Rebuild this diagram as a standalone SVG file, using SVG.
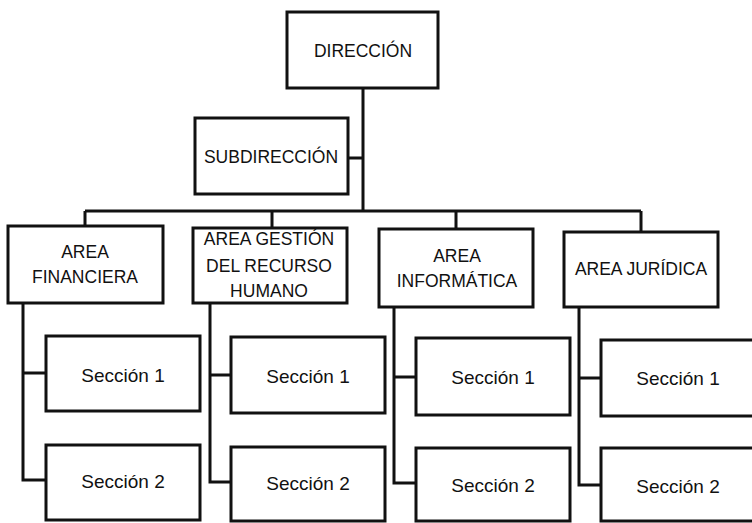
<svg xmlns="http://www.w3.org/2000/svg" width="752" height="523" viewBox="0 0 752 523">
<style>
.b{fill:#fff;stroke:#111;stroke-width:3}
.c{fill:none;stroke:#111;stroke-width:3}
text{font-family:"Liberation Sans",Arial,sans-serif;fill:#111;text-anchor:middle}
.t{font-size:17.5px}
.s{font-size:19px}
</style>
<rect width="752" height="523" fill="#fff"/>
<g id="connectors">
<path class="c" d="M363 88V211M348 158H363M85 211H641M85 211V226M272 211V228M456 211V229M641 211V232"/>
<path class="c" d="M23 303V480H46M23 373H46"/>
<path class="c" d="M210 303V482H231M210 375H231"/>
<path class="c" d="M394 307V483H416M394 377H416"/>
<path class="c" d="M579 307V485H601M579 378H601"/>
</g>
<g id="direccion"><rect class="b" x="287" y="12" width="151" height="76"/><text class="t" x="363" y="57">DIRECCIÓN</text></g>
<g id="subdireccion"><rect class="b" x="195" y="118" width="153" height="76"/><text class="t" x="271" y="163">SUBDIRECCIÓN</text></g>
<g id="area-financiera"><rect class="b" x="8" y="226" width="155" height="77"/><text class="t" x="85" y="258">AREA</text><text class="t" x="85" y="283">FINANCIERA</text></g>
<g id="area-rrhh"><rect class="b" x="193" y="228" width="154" height="75"/><text class="t" x="269" y="245">AREA GESTIÓN</text><text class="t" x="269" y="272">DEL RECURSO</text><text class="t" x="269" y="297">HUMANO</text></g>
<g id="area-informatica"><rect class="b" x="379" y="229" width="154" height="78"/><text class="t" x="457" y="262">AREA</text><text class="t" x="457" y="287">INFORMÁTICA</text></g>
<g id="area-juridica"><rect class="b" x="564" y="232" width="154" height="75"/><text class="t" x="641" y="275">AREA JURÍDICA</text></g>
<g id="fin-s1"><rect class="b" x="46" y="336" width="154" height="75"/><text class="s" x="123" y="382">Sección 1</text></g>
<g id="fin-s2"><rect class="b" x="46" y="445" width="154" height="75"/><text class="s" x="123" y="488">Sección 2</text></g>
<g id="rrhh-s1"><rect class="b" x="231" y="337" width="154" height="76"/><text class="s" x="308" y="383">Sección 1</text></g>
<g id="rrhh-s2"><rect class="b" x="231" y="447" width="154" height="74"/><text class="s" x="308" y="490">Sección 2</text></g>
<g id="inf-s1"><rect class="b" x="416" y="338" width="154" height="77"/><text class="s" x="493" y="384">Sección 1</text></g>
<g id="inf-s2"><rect class="b" x="416" y="448" width="154" height="73"/><text class="s" x="493" y="492">Sección 2</text></g>
<g id="jur-s1"><rect class="b" x="601" y="340" width="154" height="76"/><text class="s" x="678" y="385">Sección 1</text></g>
<g id="jur-s2"><rect class="b" x="601" y="448" width="154" height="73"/><text class="s" x="678" y="493">Sección 2</text></g>
</svg>
